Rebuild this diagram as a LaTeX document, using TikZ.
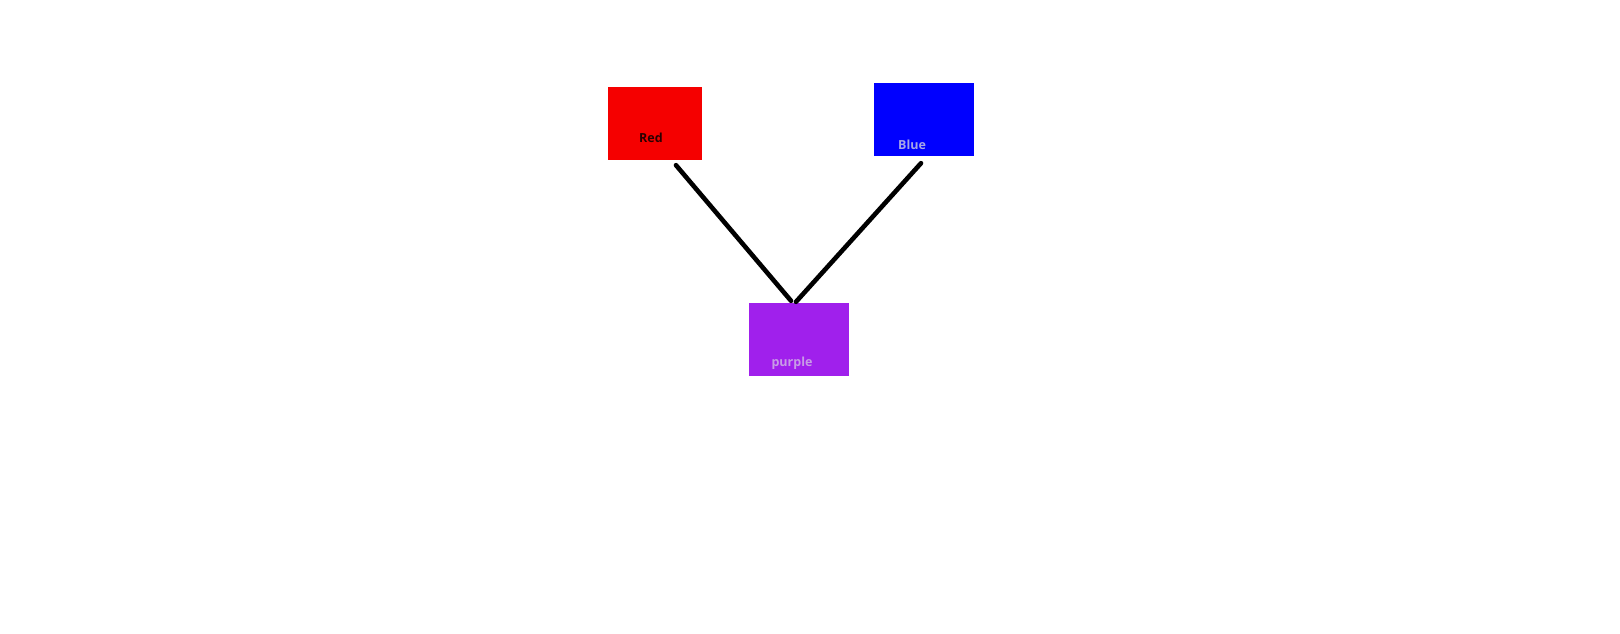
\documentclass[tikz,border=0pt]{standalone}
\usepackage{fontspec}
\setmainfont{Open Sans}
\usepackage{xcolor}
\usetikzlibrary{calc}
\definecolor{BoxRed}{HTML}{F50000}
\definecolor{BoxBlue}{HTML}{0000FF}
\definecolor{BoxPurple}{HTML}{A020EC}
\definecolor{RedText}{HTML}{2A0000}
\definecolor{BlueText}{HTML}{A6A6E6}
\definecolor{PurpleText}{HTML}{C89CE6}
\tikzset{
  colorbox/.style={draw=none,minimum width=94pt,minimum height=73pt,inner sep=0pt},
  boxtext/.style={font=\bfseries\fontsize{12.5}{14}\selectfont,inner sep=0pt},
  mixlink/.style={line width=4.6pt,draw=black,line cap=round}
}
\begin{document}
\begin{tikzpicture}[x=1pt,y=-1pt]
\useasboundingbox (0,0) rectangle (1620,634);
\node[colorbox,fill=BoxRed] (red) at (655,123.5) {};
\node[colorbox,fill=BoxBlue,minimum width=100pt] (blue) at (924,119.5) {};
\node[colorbox,fill=BoxPurple,minimum width=100pt] (purple) at (799,339.5) {};
\node[boxtext,text=RedText] (redtext) at ($(red.center)+(-4,14)$) {Red};
\node[boxtext,text=BlueText] (bluetext) at ($(blue.center)+(-12,25)$) {Blue};
\node[boxtext,text=PurpleText] (purpletext) at ($(purple.center)+(-7,24)$) {purple};
\draw[mixlink] ($(red.south)+(21,5)$) -- ($(purple.north)+(-8,-2)$);
\draw[mixlink] ($(blue.south)+(-3,7)$) -- ($(purple.north)+(-3,-1)$);
\end{tikzpicture}
\end{document}
